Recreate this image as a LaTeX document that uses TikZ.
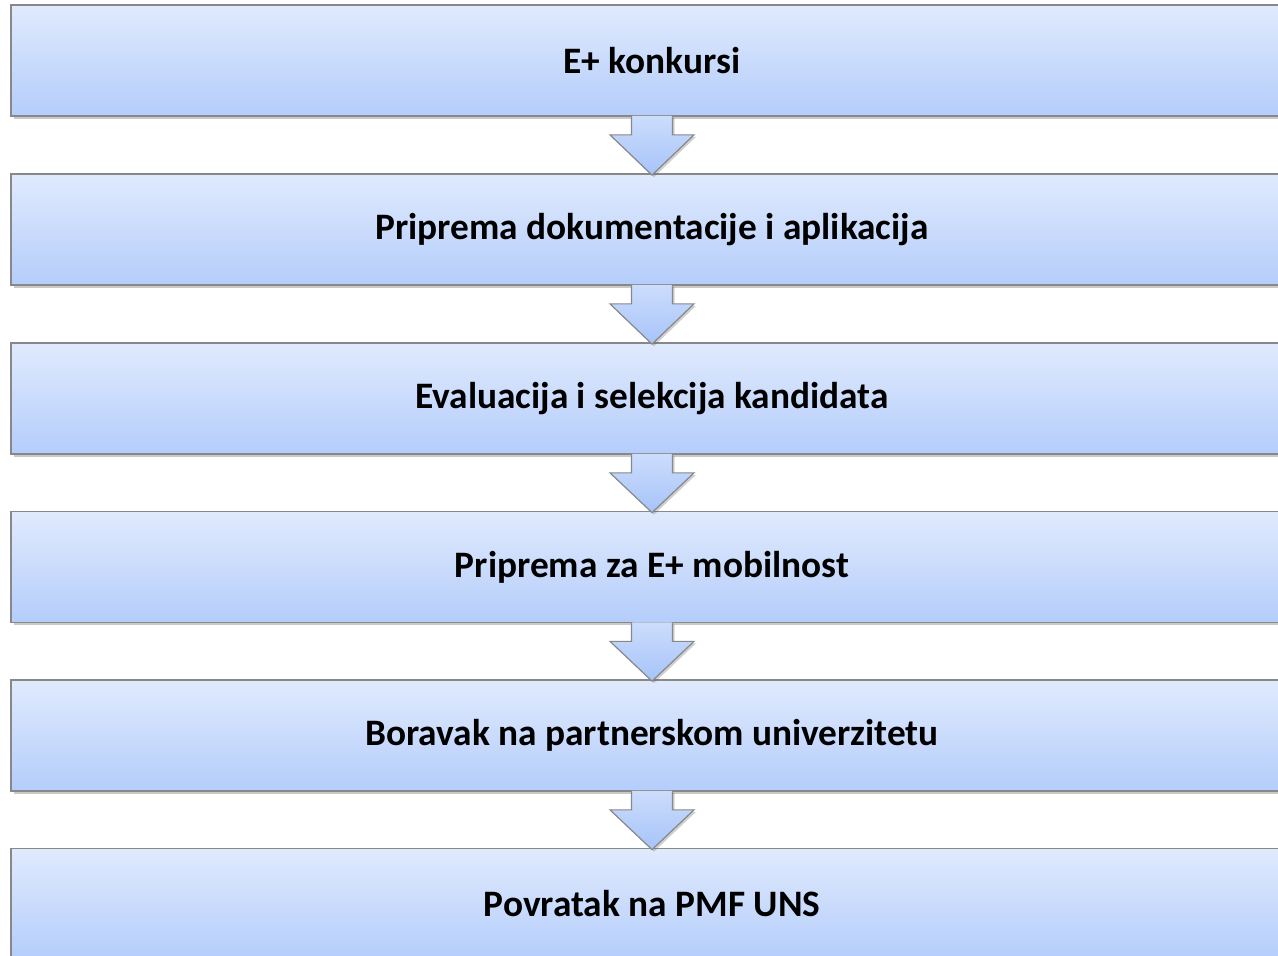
\documentclass[tikz,border=0pt]{standalone}
\usepackage{fontspec}
\setmainfont{Carlito}
\usetikzlibrary{calc,shadows}
\definecolor{boxtop}{HTML}{E0EAFD}
\definecolor{boxbot}{HTML}{B4CDFB}
\definecolor{arrtop}{HTML}{CCDDFC}
\definecolor{arrbot}{HTML}{A6C3F9}
\definecolor{edge}{HTML}{888888}
\begin{document}
\begin{tikzpicture}[x=0.75pt,y=-0.75pt,
  stepbox/.style={draw=edge, line width=1.3pt, top color=boxtop, bottom color=boxbot,
    minimum width=961.5pt, minimum height=83.25pt, inner sep=0pt,
    font=\fontsize{28}{33}\selectfont\bfseries,
    drop shadow={shadow xshift=2pt, shadow yshift=-2pt, opacity=0.35, fill=black!60}},
  flowarrow/.style={draw=edge, line width=0.9pt, top color=arrtop, bottom color=arrbot, line join=miter,
    drop shadow={shadow xshift=1.5pt, shadow yshift=-1.5pt, opacity=0.3, fill=black!60}}]
\useasboundingbox (0,0) rectangle (1278,956);
\clip (0,0) rectangle (1278,956);
\fill[white] (0,0) rectangle (1278,956);
\node[stepbox] (b1) at (652,60.5) {E+ konkursi};
\node[stepbox] (b2) at (652,229.5) {Priprema dokumentacije i aplikacija};
\node[stepbox] (b3) at (652,398.5) {Evaluacija i selekcija kandidata};
\node[stepbox] (b4) at (652,567) {Priprema za E+ mobilnost};
\node[stepbox] (b5) at (652,735.5) {Boravak na partnerskom univerzitetu};
\node[stepbox] (b6) at (652,904) {Povratak na PMF UNS};
\foreach \a/\b in {b1/b2,b2/b3,b3/b4,b4/b5,b5/b6}{
  \draw[flowarrow] ($(\a.south)+(-20.5,-1)$) -- ($(\a.south)+(-20.5,18)$) -- ($(\a.south)+(-42,18)$)
     -- ($(\b.north)+(0,2)$) -- ($(\a.south)+(42,18)$) -- ($(\a.south)+(20.5,18)$) -- ($(\a.south)+(20.5,-1)$);
}
\end{tikzpicture}
\end{document}
